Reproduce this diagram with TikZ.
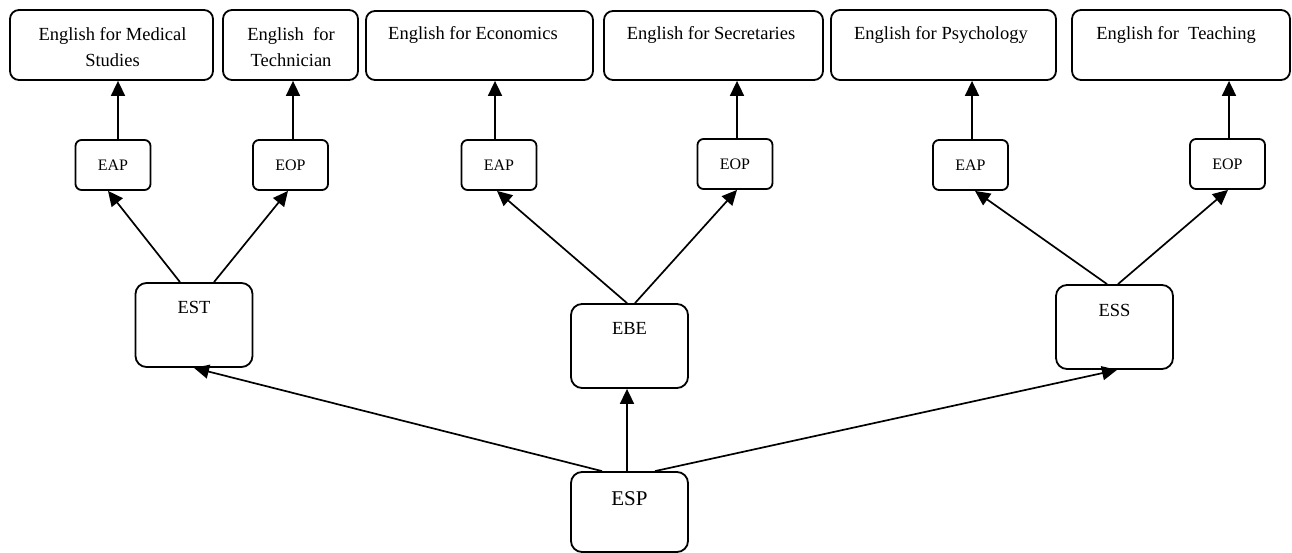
\documentclass[tikz,border=0pt]{standalone}
\usepackage{fontspec}
\setmainfont{Liberation Serif}
\usetikzlibrary{arrows.meta,calc}
\begin{document}
\begin{tikzpicture}[x=1pt,y=-1pt,
  box/.style={draw, line width=1.8pt, rounded corners=9pt, inner sep=0pt},
  sbox/.style={draw, line width=1.8pt, rounded corners=6pt, inner sep=0pt, minimum width=75pt, minimum height=50pt},
  mbox/.style={draw, line width=1.8pt, rounded corners=11pt, inner sep=0pt, minimum width=117pt, minimum height=84pt},
  arr/.style={line width=1.7pt, -{Triangle[length=15pt,width=14pt]}},
  lbl/.style={inner sep=0pt, align=center, font=\fontsize{18.5}{26}\selectfont},
  slbl/.style={inner sep=0pt, font=\fontsize{16}{19}\selectfont},
  mlbl/.style={inner sep=0pt, font=\fontsize{18.5}{22}\selectfont}
]
\useasboundingbox (0,0) rectangle (1292,553);

% top boxes
\node[box, minimum width=203pt, minimum height=70pt] (m1) at (111.5,45) {};
\node[box, minimum width=135pt, minimum height=70pt] (m2) at (290.5,45) {};
\node[box, minimum width=227pt, minimum height=69pt] (m3) at (479.5,45.5) {};
\node[box, minimum width=219pt, minimum height=69pt] (m4) at (713.5,45.5) {};
\node[box, minimum width=225pt, minimum height=70pt] (m5) at (943.5,45) {};
\node[box, minimum width=218pt, minimum height=70pt] (m6) at (1181,45) {};

\node[lbl] (t1) at (112.5,47) {English for Medical\\Studies};
\node[lbl] (t2) at (291,47) {English\ \ for\\Technician};
\node[lbl] (t3) at (473,35) {English for Economics};
\node[lbl] (t4) at (711,35) {English for Secretaries};
\node[lbl] (t5) at (941,35) {English for Psychology};
\node[lbl] (t6) at (1176,35) {English for\ \ Teaching};

% EAP / EOP boxes
\node[sbox] (eap1) at (113,165) {};
\node[sbox] (eop1) at (290.5,165) {};
\node[sbox] (eap2) at (499,165) {};
\node[sbox] (eop2) at (735,164) {};
\node[sbox] (eap3) at (970.5,165) {};
\node[sbox] (eop3) at (1227.5,164) {};

\node[slbl] (l1) at (eap1) {EAP};
\node[slbl] (l2) at (eop1) {EOP};
\node[slbl] (l3) at (eap2) {EAP};
\node[slbl] (l4) at (eop2) {EOP};
\node[slbl] (l5) at (eap3) {EAP};
\node[slbl] (l6) at (eop3) {EOP};

% middle boxes
\node[mbox] (est) at (194,325) {};
\node[mbox] (ebe) at (629.5,346) {};
\node[mbox] (ess) at (1114.5,327) {};
\node[mbox, minimum height=80pt] (esp) at (629.5,512) {};

\node[mlbl] (lest) at (194,307) {EST};
\node[mlbl] (lebe) at (629.5,328) {EBE};
\node[mlbl] (less) at (1114.5,310) {ESS};
\node[inner sep=0pt, font=\fontsize{21}{25}\selectfont] (lesp) at (629.5,499) {ESP};

% vertical arrows to top boxes
\draw[arr] ([xshift=5]eap1.north) -- ([xshift=5]eap1.north |- m1.south);
\draw[arr] ([xshift=2.5]eop1.north) -- ([xshift=2.5]eop1.north |- m2.south);
\draw[arr] ([xshift=-4]eap2.north) -- ([xshift=-4]eap2.north |- m3.south);
\draw[arr] ([xshift=2]eop2.north) -- ([xshift=2]eop2.north |- m4.south);
\draw[arr] ([xshift=1.5]eap3.north) -- ([xshift=1.5]eap3.north |- m5.south);
\draw[arr] ([xshift=1.5]eop3.north) -- ([xshift=1.5]eop3.north |- m6.south);

% middle to EAP/EOP
\draw[arr] ([xshift=-14]est.north) -- ([xshift=-5]eap1.south);
\draw[arr] ([xshift=20]est.north) -- ([xshift=-2.5]eop1.south);
\draw[arr] ([xshift=-2.5]ebe.north) -- ([xshift=-2]eap2.south);
\draw[arr] ([xshift=5.5]ebe.north) -- ([xshift=2]eop2.south);
\draw[arr] ([xshift=-7.5]ess.north) -- ([xshift=4.5]eap3.south);
\draw[arr] ([xshift=3.5]ess.north) -- ([xshift=0.5]eop3.south);

% ESP to middle
\draw[arr] ([xshift=-27.5]esp.north) -- (est.south);
\draw[arr] ([xshift=-2.5]esp.north) -- ([xshift=-2.5]ebe.south);
\draw[arr] ([xshift=25.5]esp.north) -- ([xshift=2.5]ess.south);
\end{tikzpicture}
\end{document}
